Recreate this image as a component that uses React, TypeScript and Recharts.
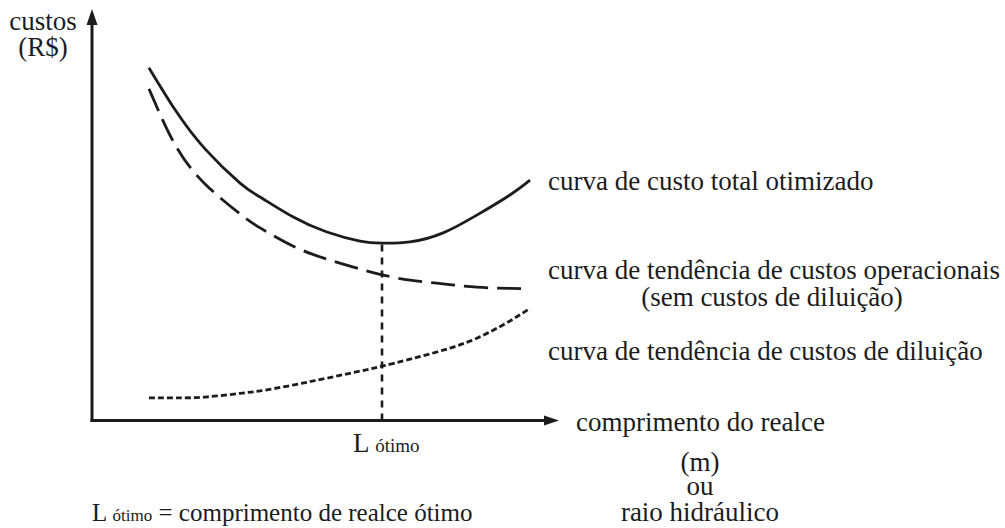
import { Line, LineChart, ReferenceDot, ReferenceLine, XAxis, YAxis } from 'recharts';

// x = comprimento do realce (relative units), y = custos (relative units)
const lengthSteps = [12.2, 17.8, 24.2, 31.7, 36.0, 43.0, 50.3, 57.4, 62.1, 68.1, 75.2, 82.4, 89.5, 93.8];
const totalCost = [85.7, 75.5, 66.0, 57.7, 54.3, 49.5, 45.8, 43.6, 43.1, 43.4, 45.6, 49.9, 54.8, 58.4];
const operationalCost = [80.6, 67.0, 57.5, 50.2, 46.8, 42.4, 39.2, 36.8, 35.4, 34.1, 33.2, 32.4, 32.1, 32.0];
const dilutionCost = [5.5, 5.5, 5.7, 6.6, 7.2, 8.6, 10.3, 12.0, 13.2, 14.9, 17.1, 20.0, 24.2, 27.3];

const rows = lengthSteps.map((x, i) => ({
  x,
  total: totalCost[i],
  operational: operationalCost[i],
  dilution: dilutionCost[i],
}));

const minIndex = totalCost.indexOf(Math.min(...totalCost));
const optimumX = lengthSteps[minIndex];
const optimumCost = totalCost[minIndex];

const INK = '#1c1c1c';
const serif = '"Liberation Serif", "Times New Roman", serif';

const ArrowRight = (props: any) => {
  const { cx, cy } = props;
  return <polygon points={`${cx},${cy} ${cx - 15},${cy - 5} ${cx - 15},${cy + 5}`} fill={INK} />;
};

const ArrowUp = (props: any) => {
  const { cx, cy } = props;
  return <polygon points={`${cx},${cy} ${cx - 5.5},${cy + 16} ${cx + 5.5},${cy + 16}`} fill={INK} />;
};

const Labels = () => (
  <svg
    width={1005}
    height={528}
    style={{ position: 'absolute', left: 0, top: 0, pointerEvents: 'none' }}
    fontFamily={serif}
    fill={INK}
    fontSize={27}
  >
    <text x={43} y={30} textAnchor="middle">custos</text>
    <text x={43} y={56} textAnchor="middle">(R$)</text>

    <text x={548} y={190}>curva de custo total otimizado</text>
    <text x={548} y={279}>curva de tendência de custos operacionais</text>
    <text x={772} y={306} textAnchor="middle">(sem custos de diluição)</text>
    <text x={548} y={360}>curva de tendência de custos de diluição</text>

    <text x={576} y={431}>comprimento do realce</text>
    <text x={700} y={471} textAnchor="middle">(m)</text>
    <text x={700} y={495} textAnchor="middle">ou</text>
    <text x={700} y={521} textAnchor="middle">raio hidráulico</text>

    <text x={353} y={452}>
      L <tspan fontSize={19}>ótimo</tspan>
    </text>
    <text x={92} y={521} fontSize={25}>
      L <tspan fontSize={17}>ótimo</tspan> = comprimento de realce ótimo
    </text>
  </svg>
);

export default function App() {
  return (
    <div style={{ position: 'absolute', left: 0, top: 0, width: 1005, height: 528, background: '#fff' }}>
      <LineChart width={1005} height={528} data={rows} margin={{ top: 9, right: 446, bottom: 107.5, left: 92 }}>
        <XAxis type="number" dataKey="x" domain={[0, 100]} hide />
        <YAxis type="number" domain={[0, 100]} hide />
        {/* axes drawn as reference segments, arrowheads as reference dots */}
        <ReferenceLine
          segment={[
            { x: 0, y: 0 },
            { x: 97, y: 0 },
          ]}
          stroke={INK}
          strokeWidth={3}
          strokeLinecap="square"
        />
        <ReferenceLine
          segment={[
            { x: 0, y: 0 },
            { x: 0, y: 97 },
          ]}
          stroke={INK}
          strokeWidth={3}
          strokeLinecap="square"
        />
        <ReferenceLine
          segment={[
            { x: optimumX, y: 0 },
            { x: optimumX, y: optimumCost },
          ]}
          stroke={INK}
          strokeWidth={2.6}
          strokeDasharray="7 6"
        />
        <Line
          type="natural"
          dataKey="total"
          stroke={INK}
          strokeWidth={2.8}
          dot={false}
          isAnimationActive={false}
        />
        <Line
          type="natural"
          dataKey="operational"
          stroke={INK}
          strokeWidth={2.8}
          strokeDasharray="24 9"
          dot={false}
          isAnimationActive={false}
        />
        <Line
          type="natural"
          dataKey="dilution"
          stroke={INK}
          strokeWidth={2.8}
          strokeDasharray="6 3"
          dot={false}
          isAnimationActive={false}
        />
        <ReferenceDot x={100} y={0} r={0} shape={ArrowRight} ifOverflow="visible" />
        <ReferenceDot x={0} y={100} r={0} shape={ArrowUp} ifOverflow="visible" />
      </LineChart>
      <Labels />
    </div>
  );
}
